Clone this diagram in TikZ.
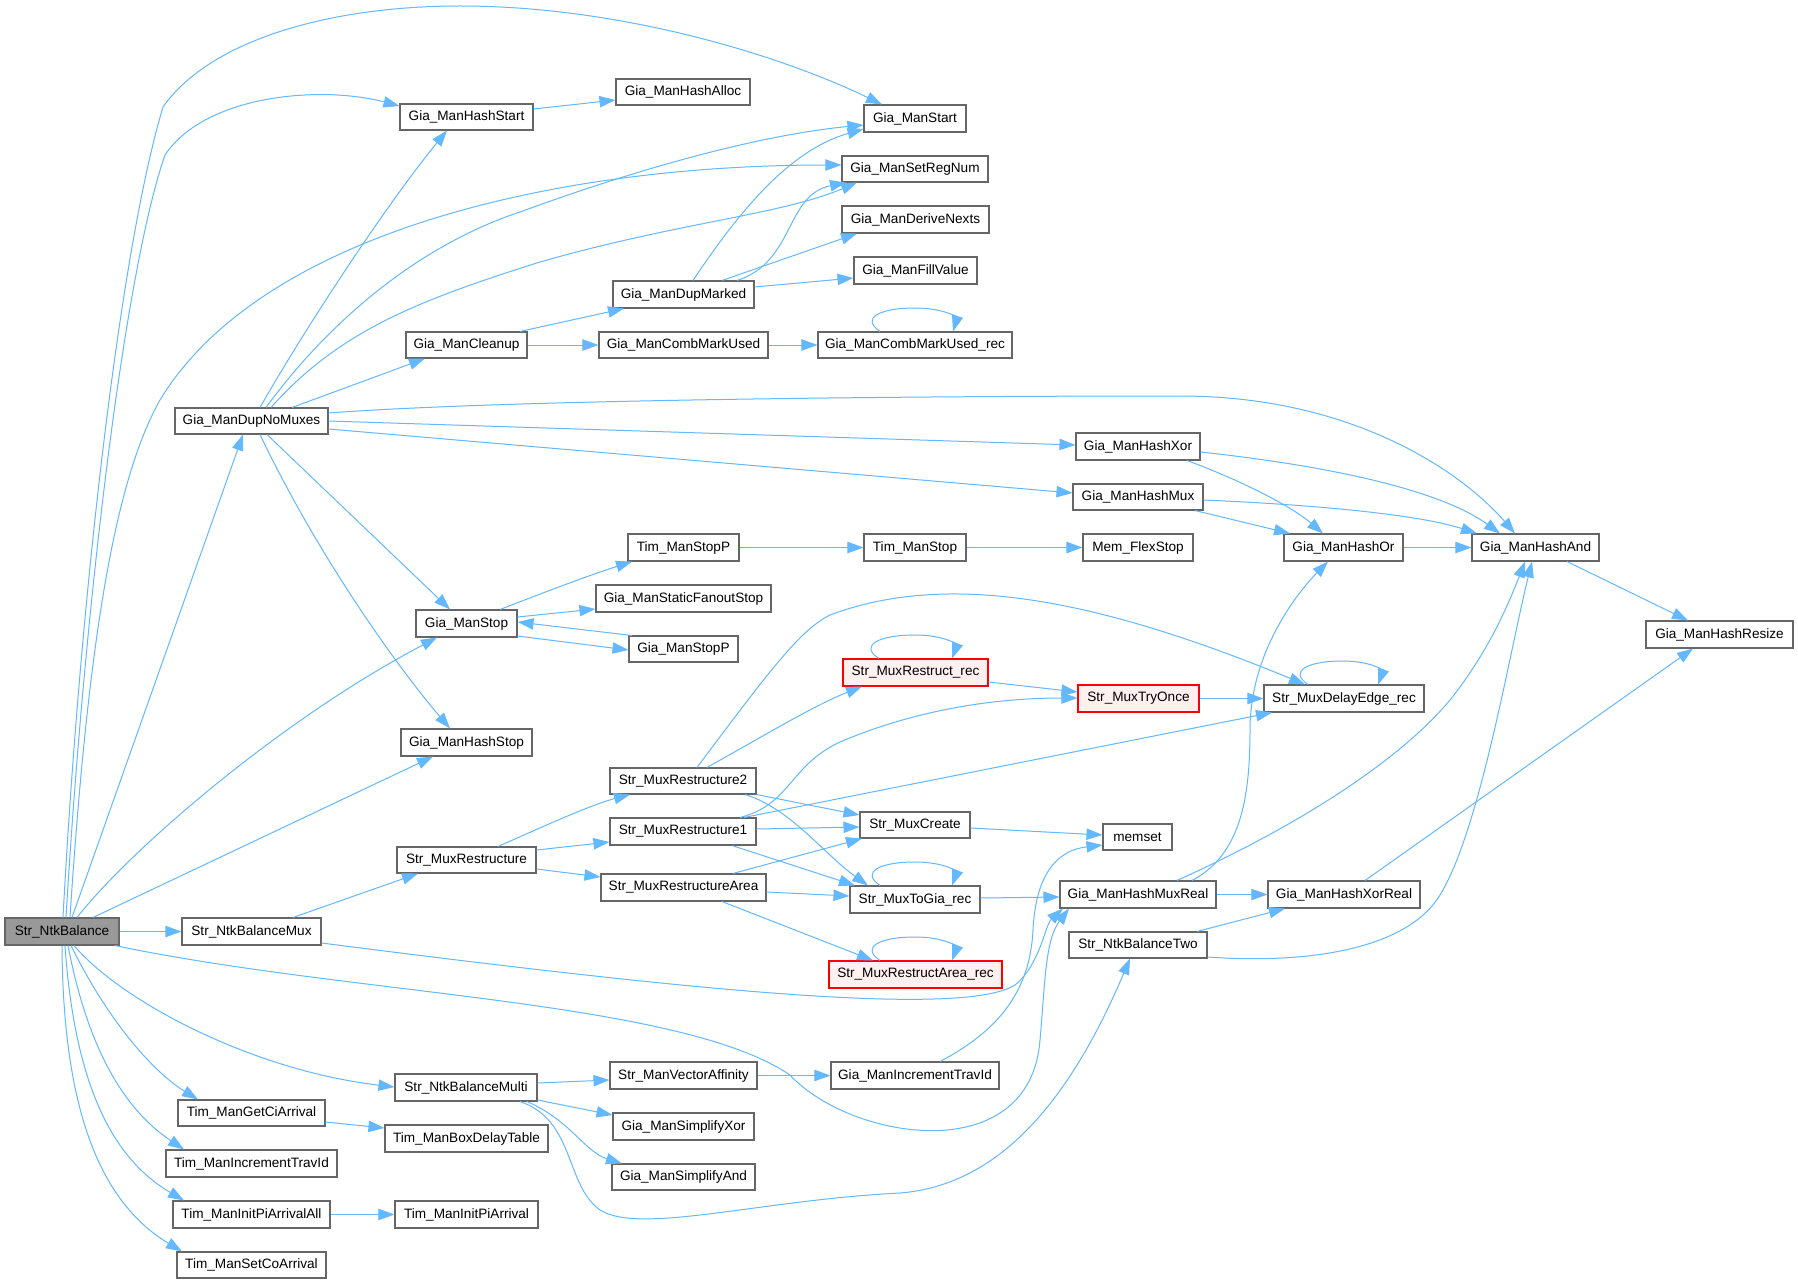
\documentclass[tikz,border=0pt]{standalone}
\usepackage{fontspec}
\setmainfont{Liberation Sans}
\usetikzlibrary{arrows.meta}
\definecolor{edgeblue}{HTML}{63B8FF}
\definecolor{nodeborder}{HTML}{666666}
\definecolor{redfill}{HTML}{FFF0F0}
\definecolor{rootfill}{HTML}{999999}
\newcommand{\bx}[7][]{\node[fnode,#1,minimum width={(#5-#3)*0.75pt},minimum height={(#6-#4)*0.75pt}] (#2) at ({(#3+#5)/2},{(#4+#6)/2}) {#7};}
\begin{document}
\begin{tikzpicture}[x=0.75pt,y=-0.75pt,
  fnode/.style={draw=nodeborder,line width=0.8pt,fill=white,inner sep=0pt,text=black,font=\fontsize{10.2}{11}\selectfont},
  rnode/.style={draw=red,fill=redfill},
  root/.style={fill=rootfill},
  cl/.style={draw=edgeblue,line width=0.75pt,-{Triangle[length=12pt,width=8.5pt]}}]
\fill[white] (0,0) rectangle (1798,1284);
\useasboundingbox (0,0) rectangle (1798,1284);
% nodes
\bx[root]{nb}{5}{918}{119}{945}{Str\_NtkBalance}
\bx{dnm}{175}{408}{328}{434}{Gia\_ManDupNoMuxes}
\bx{hstart}{400}{104}{533}{130}{Gia\_ManHashStart}
\bx{halloc}{616}{79}{750}{105}{Gia\_ManHashAlloc}
\bx{mstart}{864}{105}{966}{132}{Gia\_ManStart}
\bx{setreg}{842}{156}{988}{182}{Gia\_ManSetRegNum}
\bx{derive}{842}{206}{989}{233}{Gia\_ManDeriveNexts}
\bx{fillv}{854}{257}{977}{284}{Gia\_ManFillValue}
\bx{dupm}{613}{281}{754}{308}{Gia\_ManDupMarked}
\bx{clean}{406}{332}{527}{358}{Gia\_ManCleanup}
\bx{cmu}{599}{332}{768}{358}{Gia\_ManCombMarkUsed}
\bx{cmur}{818}{332}{1012}{358}{Gia\_ManCombMarkUsed\_rec}
\bx{hxor}{1076}{433}{1200}{460}{Gia\_ManHashXor}
\bx{hmux}{1073}{484}{1203}{510}{Gia\_ManHashMux}
\bx{tstopp}{628}{534}{739}{561}{Tim\_ManStopP}
\bx{tstop}{864}{534}{966}{561}{Tim\_ManStop}
\bx{mem}{1083}{534}{1193}{561}{Mem\_FlexStop}
\bx{hor}{1284}{534}{1403}{561}{Gia\_ManHashOr}
\bx{hand}{1472}{534}{1599}{561}{Gia\_ManHashAnd}
\bx{sfs}{596}{585}{771}{612}{Gia\_ManStaticFanoutStop}
\bx{gstop}{416}{610}{517}{637}{Gia\_ManStop}
\bx{gstopp}{629}{636}{738}{662}{Gia\_ManStopP}
\bx{hres}{1646}{621}{1793}{648}{Gia\_ManHashResize}
\bx[rnode]{mrr}{843}{659}{988}{686}{Str\_MuxRestruct\_rec}
\bx[rnode]{tryonce}{1078}{685}{1199}{712}{Str\_MuxTryOnce}
\bx{delay}{1264}{685}{1424}{712}{Str\_MuxDelayEdge\_rec}
\bx{hstop}{401}{729}{532}{756}{Gia\_ManHashStop}
\bx{mr2}{610}{768}{756}{794}{Str\_MuxRestructure2}
\bx{mr1}{610}{818}{756}{845}{Str\_MuxRestructure1}
\bx{create}{860}{812}{970}{838}{Str\_MuxCreate}
\bx{memset}{1103}{824}{1172}{850}{memset}
\bx{mr}{397}{847}{536}{873}{Str\_MuxRestructure}
\bx{mra}{601}{874}{766}{901}{Str\_MuxRestructureArea}
\bx{togia}{850}{886}{980}{913}{Str\_MuxToGia\_rec}
\bx{hmr}{1060}{881}{1216}{908}{Gia\_ManHashMuxReal}
\bx{hxr}{1268}{881}{1420}{908}{Gia\_ManHashXorReal}
\bx{nbmux}{182}{918}{321}{945}{Str\_NtkBalanceMux}
\bx{two}{1069}{932}{1207}{958}{Str\_NtkBalanceTwo}
\bx[rnode]{mrar}{829}{961}{1002}{988}{Str\_MuxRestructArea\_rec}
\bx{nbmulti}{395}{1074}{537}{1101}{Str\_NtkBalanceMulti}
\bx{vaff}{610}{1062}{757}{1089}{Str\_ManVectorAffinity}
\bx{gitr}{831}{1062}{999}{1089}{Gia\_ManIncrementTravId}
\bx{tgci}{178}{1100}{325}{1126}{Tim\_ManGetCiArrival}
\bx{sxor}{613}{1113}{754}{1140}{Gia\_ManSimplifyXor}
\bx{bdt}{385}{1125}{548}{1152}{Tim\_ManBoxDelayTable}
\bx{titr}{166}{1150}{337}{1177}{Tim\_ManIncrementTravId}
\bx{sand}{612}{1164}{755}{1190}{Gia\_ManSimplifyAnd}
\bx{tipa}{173}{1201}{330}{1228}{Tim\_ManInitPiArrivalAll}
\bx{tipi}{395}{1201}{538}{1228}{Tim\_ManInitPiArrival}
\bx{tco}{177}{1252}{326}{1278}{Tim\_ManSetCoArrival}
% edges from Str_NtkBalance
\draw[cl] (63,0 |- nb.north) .. controls (80,600) and (120,250) .. (163,107) .. controls (210,40) and (330,6) .. (460,6) .. controls (620,6) and (780,55) .. (882,0 |- mstart.north);
\draw[cl] (66,0 |- nb.north) .. controls (85,600) and (125,270) .. (165,155) .. controls (205,95) and (320,85) .. (hstart.west |- 0,106);
\draw[cl] (70,0 |- nb.north) .. controls (88,640) and (115,480) .. (160,400) .. controls (260,235) and (550,165) .. (setreg.west |- 0,165);
\draw[cl] (72,0 |- nb.north) -- (243,0 |- dnm.south);
\draw[cl] (77,0 |- nb.north) .. controls (130,850) and (280,720) .. (437,0 |- gstop.south);
\draw[cl] (93,0 |- nb.north) -- (433,0 |- hstop.south);
\draw[cl] (nb.east) -- (nbmux.west);
\draw[cl] (115,0 |- nb.south) .. controls (350,995) and (680,1000) .. (790,1075) .. controls (850,1140) and (1030,1170) .. (1040,1040) .. controls (1045,985) and (1045,940) .. (1069,0 |- hmr.south);
\draw[cl] (74,0 |- nb.south) .. controls (120,1000) and (250,1070) .. (nbmulti.west |- 0,1087);
\draw[cl] (71,0 |- nb.south) .. controls (105,1015) and (150,1070) .. (198,0 |- tgci.north);
\draw[cl] (68,0 |- nb.south) .. controls (88,1050) and (125,1110) .. (184,0 |- titr.north);
\draw[cl] (65,0 |- nb.south) .. controls (75,1090) and (115,1160) .. (184,0 |- tipa.north);
\draw[cl] (62,0 |- nb.south) .. controls (63,1120) and (105,1205) .. (182,0 |- tco.north);
% Str_NtkBalanceMux
\draw[cl] (293,0 |- nbmux.north) -- (418,0 |- mr.south);
\draw[cl] (nbmux.east |- 0,943) .. controls (650,985) and (960,1020) .. (1015,985) .. controls (1040,965) and (1045,925) .. (1063,0 |- hmr.south);
% Gia_ManDupNoMuxes
\draw[cl] (260,0 |- dnm.north) .. controls (310,320) and (390,200) .. (447,0 |- hstart.south);
\draw[cl] (266,0 |- dnm.north) .. controls (330,320) and (420,245) .. (520,212) .. controls (640,168) and (760,135) .. (mstart.west |- 0,125);
\draw[cl] (271,0 |- dnm.north) .. controls (340,330) and (420,300) .. (540,262) .. controls (680,222) and (780,215) .. (857,0 |- setreg.south);
\draw[cl] (292,0 |- dnm.north) -- (425,0 |- clean.south);
\draw[cl] (dnm.east |- 0,413) .. controls (500,400) and (900,396) .. (1180,396) .. controls (1350,396) and (1460,470) .. (1515,0 |- hand.north);
\draw[cl] (dnm.east |- 0,421) -- (hxor.west |- 0,445);
\draw[cl] (dnm.east |- 0,429) -- (hmux.west |- 0,493);
\draw[cl] (267,0 |- dnm.south) -- (450,0 |- gstop.north);
\draw[cl] (260,0 |- dnm.south) .. controls (320,560) and (400,670) .. (450,0 |- hstop.north);
% upper right cluster
\draw[cl] (hstart.east |- 0,109) -- (halloc.west |- 0,100);
\draw[cl] (693,0 |- dupm.north) .. controls (740,210) and (790,150) .. (mstart.west |- 0,129);
\draw[cl] (737,0 |- dupm.north) .. controls (795,262) and (785,195) .. (846,0 |- setreg.south);
\draw[cl] (722,0 |- dupm.north) -- (857,0 |- derive.south);
\draw[cl] (dupm.east |- 0,287) -- (fillv.west |- 0,278);
\draw[cl] (520,0 |- clean.north) -- (624,0 |- dupm.south);
\draw[cl] (clean.east) -- (cmu.west);
\draw[cl] (cmu.east) -- (cmur.west);
\draw[cl] (880,0 |- cmur.north) .. controls (860,318) and (880,308) .. (915,308) .. controls (945,308) and (957,318) .. (953,0 |- cmur.north);
% Gia_ManStop cluster
\draw[cl] (500,0 |- gstop.north) .. controls (545,592) and (590,575) .. (632,0 |- tstopp.south);
\draw[cl] (gstop.east |- 0,617) -- (sfs.west |- 0,609);
\draw[cl] (632,0 |- gstopp.north) -- (gstop.east |- 0,622);
\draw[cl] (gstop.east |- 0,636) -- (gstopp.west |- 0,650);
\draw[cl] (tstopp.east) -- (tstop.west);
\draw[cl] (tstop.east) -- (mem.west);
% hash cluster
\draw[cl] (1187,0 |- hxor.south) .. controls (1235,478) and (1290,505) .. (1323,0 |- hor.north);
\draw[cl] (hxor.east |- 0,452) .. controls (1330,466) and (1440,490) .. (1500,0 |- hand.north);
\draw[cl] (hmux.east |- 0,500) .. controls (1320,505) and (1420,515) .. (1477,0 |- hand.north);
\draw[cl] (1195,0 |- hmux.south) -- (1290,0 |- hor.north);
\draw[cl] (hor.east) -- (hand.west);
\draw[cl] (1567,0 |- hand.south) -- (1688,0 |- hres.north);
% restructure cluster
\draw[cl] (697,0 |- mr2.north) .. controls (770,670) and (800,630) .. (830,615) .. controls (950,570) and (1100,600) .. (1305,0 |- delay.north);
\draw[cl] (707,0 |- mr2.north) .. controls (765,735) and (815,705) .. (862,0 |- mrr.south);
\draw[cl] (mr2.south east) -- (create.west |- 0,815);
\draw[cl] (745,0 |- mr2.south) .. controls (790,808) and (825,855) .. (868,0 |- togia.north);
\draw[cl] (740,0 |- mr1.north) .. controls (790,805) and (790,765) .. (840,742) .. controls (920,708) and (1000,698) .. (tryonce.west |- 0,698);
\draw[cl] (744,0 |- mr1.north) -- (1272,0 |- delay.south);
\draw[cl] (mr1.east |- 0,829) -- (create.west |- 0,827);
\draw[cl] (732,0 |- mr1.south) -- (855,0 |- togia.north);
\draw[cl] (733,0 |- mra.north) -- (862,0 |- create.south);
\draw[cl] (mra.east |- 0,892) -- (togia.west |- 0,896);
\draw[cl] (722,0 |- mra.south) -- (873,0 |- mrar.north);
\draw[cl] (498,0 |- mr.north) .. controls (540,828) and (590,805) .. (630,0 |- mr2.south);
\draw[cl] (mr.east |- 0,850) -- (mr1.west |- 0,842);
\draw[cl] (mr.east |- 0,869) -- (mra.west |- 0,877);
\draw[cl] (togia.east |- 0,898) -- (hmr.west |- 0,897);
\draw[cl] (hmr.east) -- (hxr.west);
\draw[cl] (1192,0 |- hmr.north) .. controls (1240,855) and (1250,800) .. (1250,730) .. controls (1250,650) and (1300,590) .. (1328,0 |- hor.south);
\draw[cl] (1177,0 |- hmr.north) .. controls (1300,825) and (1400,760) .. (1450,700) .. controls (1490,650) and (1510,600) .. (1525,0 |- hand.south);
\draw[cl] (1365,0 |- hxr.north) -- (1693,0 |- hres.south);
\draw[cl] (1197,0 |- two.north) -- (1285,0 |- hxr.south);
\draw[cl] (two.east |- 0,957) .. controls (1320,965) and (1410,945) .. (1440,895) .. controls (1480,830) and (1510,650) .. (1532,0 |- hand.south);
\draw[cl] (mrr.east |- 0,682) -- (tryonce.west |- 0,692);
\draw[cl] (tryonce.east) -- (delay.west);
% self loops
\draw[cl] (879,0 |- mrr.north) .. controls (858,645) and (880,635) .. (915,635) .. controls (945,635) and (957,645) .. (952,0 |- mrr.north);
\draw[cl] (1308,0 |- delay.north) .. controls (1288,671) and (1308,661) .. (1343,661) .. controls (1372,661) and (1383,671) .. (1378,0 |- delay.north);
\draw[cl] (880,0 |- togia.north) .. controls (860,872) and (880,862) .. (915,862) .. controls (945,862) and (957,872) .. (952,0 |- togia.north);
\draw[cl] (880,0 |- mrar.north) .. controls (860,947) and (880,937) .. (915,937) .. controls (945,937) and (957,947) .. (952,0 |- mrar.north);
% bottom cluster
\draw[cl] (tgci.east |- 0,1122) -- (bdt.west |- 0,1128);
\draw[cl] (tipa.east) -- (tipi.west);
\draw[cl] (nbmulti.east |- 0,1083) -- (vaff.west |- 0,1080);
\draw[cl] (nbmulti.east |- 0,1100) -- (sxor.west |- 0,1115);
\draw[cl] (527,0 |- nbmulti.south) .. controls (570,1120) and (585,1152) .. (622,0 |- sand.north);
\draw[cl] (520,0 |- nbmulti.south) .. controls (575,1120) and (565,1185) .. (600,1210) .. controls (640,1235) and (760,1200) .. (900,1193) .. controls (1000,1185) and (1070,1100) .. (1130,0 |- two.south);
\draw[cl] (vaff.east) -- (gitr.west);
\draw[cl] (940,0 |- gitr.north) .. controls (1000,1030) and (1030,990) .. (1033,930) .. controls (1036,870) and (1060,850) .. (memset.west |- 0,845);
\draw[cl] (create.east |- 0,828) -- (memset.west |- 0,835);
\end{tikzpicture}
\end{document}
